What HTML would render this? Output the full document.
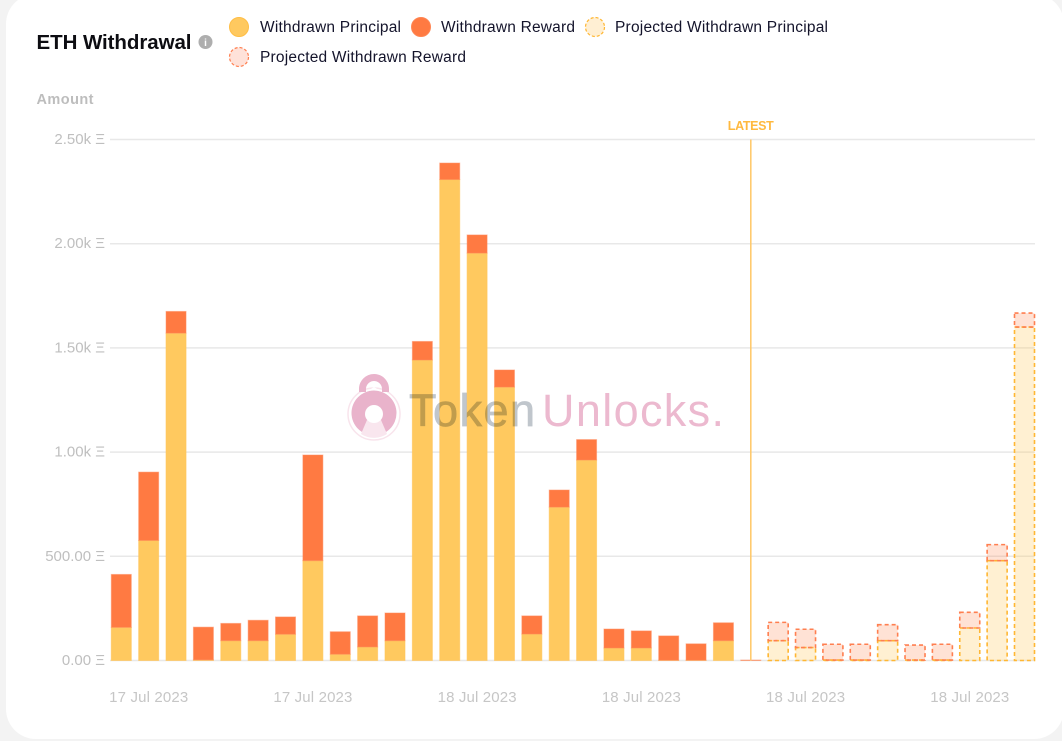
<!DOCTYPE html>
<html lang="en">
<head>
<meta charset="utf-8">
<title>ETH Withdrawal</title>
<style>
html,body{margin:0;padding:0;width:1062px;height:741px;overflow:hidden;background:#f3f3f3;}
svg{display:block;font-family:"Liberation Sans",sans-serif;}
</style>
</head>
<body>
<svg id="chart" width="1062" height="741" viewBox="0 0 1062 741" xmlns="http://www.w3.org/2000/svg">
  <rect x="6" y="-6" width="1058" height="745" rx="30" ry="30" fill="#ffffff"/>
  <text x="36.5" y="49" font-size="20.5" font-weight="700" fill="#0d0d12" textLength="155">ETH Withdrawal</text>
  <g>
    <circle cx="205.500" cy="42" r="7" fill="#aeaeae"/>
    <text x="205.500" y="46" font-size="10" font-weight="700" fill="#fff" text-anchor="middle">i</text>
  </g>
  <g>
    <circle cx="239" cy="27" r="9.500" fill="#ffc95f" stroke="#ffbe45" stroke-width="1"/>
    <text x="260" y="32" font-size="15.5" fill="#14142b" textLength="141">Withdrawn Principal</text>
  </g>
  <g>
    <circle cx="421" cy="27" r="9.500" fill="#ff7a42" stroke="#ff8552" stroke-width="1"/>
    <text x="441" y="32" font-size="15.5" fill="#14142b" textLength="134">Withdrawn Reward</text>
  </g>
  <g>
    <circle cx="595" cy="27" r="9.500" fill="#ffefd3" stroke="#ffb733" stroke-width="1.200" stroke-dasharray="3 2"/>
    <text x="615" y="32" font-size="15.5" fill="#14142b" textLength="213">Projected Withdrawn Principal</text>
  </g>
  <g>
    <circle cx="239" cy="57" r="9.500" fill="#ffe2d9" stroke="#ff7f50" stroke-width="1.200" stroke-dasharray="3 2"/>
    <text x="260" y="62" font-size="15.5" fill="#14142b" textLength="206">Projected Withdrawn Reward</text>
  </g>
  <text x="36.500" y="104" font-size="14.5" font-weight="700" fill="#bdbdbd" textLength="57">Amount</text>
  <g id="grid"></g>
  <g id="bars"></g>
  <g id="latest"></g>
  <g>
    <circle cx="374" cy="414" r="26" fill="none" stroke="#f8e4ec" stroke-width="1.500"/>
    <circle cx="374" cy="413" r="22.500" fill="#e9b3cb"/>
    <path d="M362.500 392 v-3 a11.500 11.500 0 0 1 23 0 v3" fill="none" stroke="#e9b3cb" stroke-width="7"/>
    <path d="M366 392 a14 10 0 0 1 16 0 l-8 -5 z" fill="#ffffff"/>
    <path d="M367 420 h14 l6 14 a24 24 0 0 1 -26 0 z" fill="#f9e6ee"/>
    <circle cx="374" cy="414" r="9" fill="#ffffff"/>
    <text x="409" y="426" font-size="45" fill="#c0c6cc" stroke="#c0c6cc" stroke-width="0.700" style="mix-blend-mode:multiply" textLength="126">Token</text>
    <text x="542" y="426" font-size="45" fill="#ecb9cf" style="mix-blend-mode:multiply" textLength="182">Unlocks.</text>
  </g>
  <g id="xlabels"></g>
</svg>
<script>
const categories = ["17 Jul 2023","17 Jul 2023","17 Jul 2023","17 Jul 2023","17 Jul 2023","17 Jul 2023","17 Jul 2023","17 Jul 2023","17 Jul 2023","17 Jul 2023","17 Jul 2023","17 Jul 2023","18 Jul 2023","18 Jul 2023","18 Jul 2023","18 Jul 2023","18 Jul 2023","18 Jul 2023","18 Jul 2023","18 Jul 2023","18 Jul 2023","18 Jul 2023","18 Jul 2023","18 Jul 2023","18 Jul 2023","18 Jul 2023","18 Jul 2023","18 Jul 2023","18 Jul 2023","18 Jul 2023","18 Jul 2023","18 Jul 2023","18 Jul 2023","18 Jul 2023"];
const principal = [159,576,1571,3,95,95,126,479,30,65,95,1442,2308,1955,1312,127,736,962,60,60,1,1,95,0,95,62,2,2,95,2,2,156,479,1600];
const reward = [254,328,104,157,83,98,83,507,108,149,133,89,79,87,82,87,82,98,91,82,117,79,86,2,88,88,76,76,77,72,76,75,77,67];
const projectedFrom = 24;
const latestIndex = 23;
const yTicks = [0,500,1000,1500,2000,2500];
const yTickLabels = ["0.00 Ξ","500.00 Ξ","1.00k Ξ","1.50k Ξ","2.00k Ξ","2.50k Ξ"];
const latestLabel = "LATEST";
const xLabelEvery = 6;
const xLabelStart = 1;

const NS = "http://www.w3.org/2000/svg";
function yScale(v){ return 660.5 - v * (521 / 2500); }
function xScale(i){ return 121.3 + i * ((1024.5 - 121.3) / (categories.length - 1)); }
function make(tag, attrs, parent){
  const el = document.createElementNS(NS, tag);
  for (const k in attrs) el.setAttribute(k, attrs[k]);
  parent.appendChild(el);
  return el;
}
const gridG = document.getElementById("grid");
const barsG = document.getElementById("bars");
const latestG = document.getElementById("latest");
const xG = document.getElementById("xlabels");

yTicks.forEach(function(t, i){
  const line = make("line", {x1:110, x2:1035, y1:yScale(t), y2:yScale(t), stroke:"#e8e8e8", "stroke-width":1.5}, gridG);
  
  
  const lab = make("text", {x:105, y:yScale(t)+4.5, "text-anchor":"end", "font-size":15, fill:"#bfbfbf"}, gridG);
  
  
  lab.textContent = yTickLabels[i];
});

const barWidth = 20;
categories.forEach(function(c, i){
  const proj = i >= projectedFrom;
  const x = xScale(i) - barWidth / 2;
  const y0 = yScale(0), y1 = yScale(principal[i]), y2 = yScale(principal[i] + reward[i]);
  const p = make("rect", {x:x, y:y1, width:barWidth, height:Math.max(0, y0 - y1)}, barsG);
  
  
  const r = make("rect", {x:x, y:y2, width:barWidth, height:Math.max(0, y1 - y2)}, barsG);
  
  
  if (proj) {
    p.setAttribute("fill", "#ffc95f"); p.setAttribute("fill-opacity", "0.28");
    p.setAttribute("stroke", "#ffb733"); p.setAttribute("stroke-width", "1.6"); p.setAttribute("stroke-dasharray", "4 3");
    r.setAttribute("fill", "#ff7a42"); r.setAttribute("fill-opacity", "0.22");
    r.setAttribute("stroke", "#ff7f50"); r.setAttribute("stroke-width", "1.6"); r.setAttribute("stroke-dasharray", "4 3");
  } else {
    p.setAttribute("fill", "#ffc95f"); p.setAttribute("stroke", "#ffc45a"); p.setAttribute("stroke-opacity", "0.6");
    r.setAttribute("fill", "#ff7a42"); r.setAttribute("stroke", "#ff8a5c"); r.setAttribute("stroke-opacity", "0.5");
  }
});

const lx = xScale(latestIndex);
const ll = make("line", {x1:lx, x2:lx, y1:yScale(2500), y2:yScale(0), stroke:"#ffc766", "stroke-width":1.5}, latestG);


const lt = make("text", {x:lx, y:130, "text-anchor":"middle", "font-size":12.5, "font-weight":700, fill:"#ffb93f", textLength:46}, latestG);


lt.textContent = latestLabel;

categories.forEach(function(c, i){
  if ((i - xLabelStart) % xLabelEvery !== 0) return;
  const t = make("text", {x:xScale(i), y:702, "text-anchor":"middle", "font-size":15, fill:"#c6c6c6", textLength:79}, xG);
  
  
  t.textContent = c;
});
</script>
</body>
</html>
